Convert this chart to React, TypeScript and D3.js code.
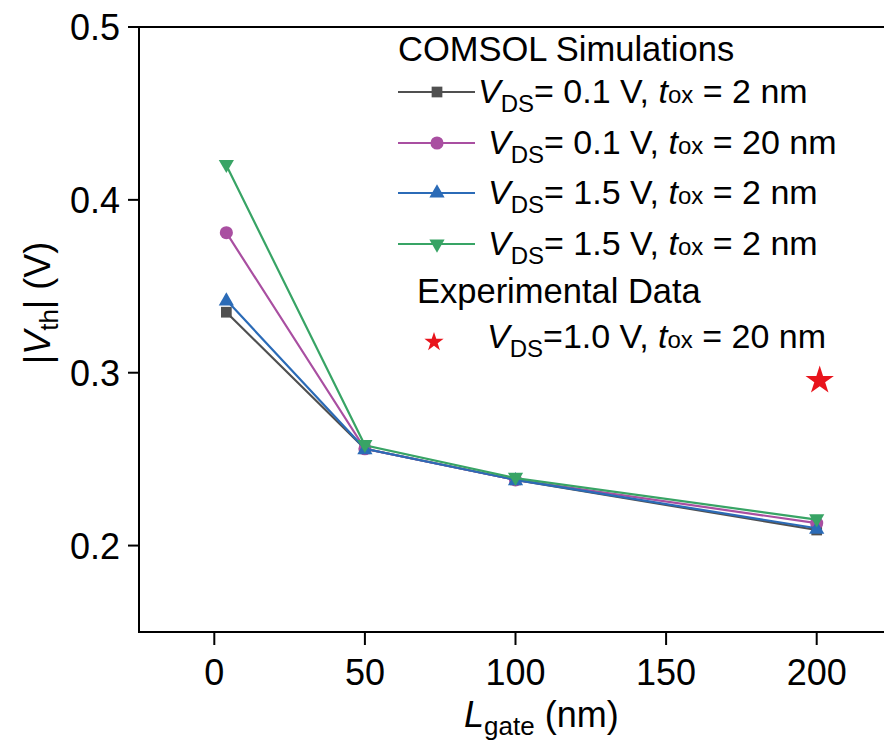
import React from "react";
import * as d3 from "d3";

const lgate = [4, 50, 100, 200];
const vthA = [0.335, 0.256, 0.238, 0.209];
const vthB = [0.381, 0.256, 0.238, 0.213];
const vthC = [0.342, 0.256, 0.238, 0.210];
const vthD = [0.420, 0.258, 0.239, 0.215];
const expX = [201];
const expY = [0.2955];
const xTicks = [0, 50, 100, 150, 200];
const yTicks = [0.2, 0.3, 0.4, 0.5];
const legendVds = ["0.1", "0.1", "1.5", "1.5"];
const legendTox = ["2", "20", "2", "2"];

const W = 884;
const H = 745;
const FONT = "'Liberation Sans', Arial, Helvetica, sans-serif";

const series = [
  { values: vthA, color: "#505050", symbol: d3.symbolSquare, size: 115, rot: 0 },
  { values: vthB, color: "#a94fa1", symbol: d3.symbolCircle, size: 135, rot: 0 },
  { values: vthC, color: "#2b6bb7", symbol: d3.symbolTriangle, size: 100, rot: 0 },
  { values: vthD, color: "#38a465", symbol: d3.symbolTriangle, size: 100, rot: 180 },
];

export default function App() {
  const x = d3.scaleLinear().domain([-25, 225]).range([139, 892]);
  const y = d3.scaleLinear().domain([0.15, 0.5]).range([632, 27]);
  const line = d3
    .line<number>()
    .x((_, i) => x(lgate[i]))
    .y((d) => y(d));

  const legendRowsY = [92, 143, 193, 244];
  const textX = [478, 488, 488, 488];

  return (
    <div style={{ position: "absolute", left: 0, top: 0 }}>
      <svg width={W} height={H} style={{ display: "block", background: "#fff" }} fontFamily={FONT}>
        <rect x={0} y={0} width={W} height={H} fill="#fff" />
        {/* frame */}
        <line x1={139} x2={W} y1={y(0.5)} y2={y(0.5)} stroke="#000" strokeWidth={2} />
        <line x1={139} x2={139} y1={y(0.5)} y2={y(0.15) + 1} stroke="#000" strokeWidth={2} />
        <line x1={138} x2={W} y1={y(0.15)} y2={y(0.15)} stroke="#000" strokeWidth={2} />
        {/* y ticks */}
        {yTicks.map((t) => (
          <g key={"y" + t}>
            <line x1={128} x2={139} y1={y(t)} y2={y(t)} stroke="#000" strokeWidth={2} />
            <text x={120} y={y(t) + 13} textAnchor="end" fontSize={36}>
              {t.toFixed(1)}
            </text>
          </g>
        ))}
        {/* x ticks */}
        {xTicks.map((t) => (
          <g key={"x" + t}>
            <line x1={x(t)} x2={x(t)} y1={632} y2={645} stroke="#000" strokeWidth={2} />
            <text x={x(t)} y={685} textAnchor="middle" fontSize={36}>
              {t}
            </text>
          </g>
        ))}
        {/* axis titles */}
        <text x={464} y={727} fontSize={36}>
          <tspan fontStyle="italic">L</tspan>
          <tspan fontSize={26} dy={8}>gate</tspan>
          <tspan dy={-8}> (nm)</tspan>
        </text>
        <text transform="translate(50,303) rotate(-90)" textAnchor="middle" fontSize={36}>
          <tspan>|</tspan>
          <tspan fontStyle="italic">V</tspan>
          <tspan fontSize={26} dy={8}>th</tspan>
          <tspan dy={-8}>| (V)</tspan>
        </text>
        {/* series */}
        {series.map((s, si) => (
          <g key={"s" + si}>
            <path d={line(s.values) || ""} fill="none" stroke={s.color} strokeWidth={2.2} />
            {s.values.map((v, i) => (
              <path
                key={i}
                d={d3.symbol().type(s.symbol).size(s.size)() || ""}
                transform={`translate(${x(lgate[i])},${y(v) + (s.rot ? -1 : s.symbol === d3.symbolTriangle ? 1 : 0)}) rotate(${s.rot})`}
                fill={s.color}
              />
            ))}
          </g>
        ))}
        {/* experimental star */}
        {expX.map((v, i) => (
          <path
            key={"e" + i}
            d={d3.symbol().type(d3.symbolStar).size(250)() || ""}
            transform={`translate(${x(v)},${y(expY[i])})`}
            fill="#e8141c"
          />
        ))}
        {/* legend */}
        <text x={398} y={61} fontSize={34.5}>COMSOL Simulations</text>
        {series.map((s, i) => (
          <g key={"l" + i}>
            <line x1={398} x2={475} y1={legendRowsY[i]} y2={legendRowsY[i]} stroke={s.color} strokeWidth={2} />
            <path
              d={d3.symbol().type(s.symbol).size(s.size)() || ""}
              transform={`translate(437,${legendRowsY[i]}) rotate(${s.rot})`}
              fill={s.color}
            />
            <text x={textX[i]} y={legendRowsY[i] + 11} fontSize={34}>
              <tspan fontStyle="italic">V</tspan>
              <tspan fontSize={24} dy={9}>DS</tspan>
              <tspan dy={-9}>{`= ${legendVds[i]} V, `}</tspan>
              <tspan fontStyle="italic">t</tspan>
              <tspan fontSize={24}>ox</tspan>
              <tspan>{` = ${legendTox[i]} nm`}</tspan>
            </text>
          </g>
        ))}
        <text x={417} y={303} fontSize={34.5}>Experimental Data</text>
        <path
          d={d3.symbol().type(d3.symbolStar).size(115)() || ""}
          transform="translate(434,342)"
          fill="#e8141c"
        />
        <text x={487} y={348} fontSize={34}>
          <tspan fontStyle="italic">V</tspan>
          <tspan fontSize={24} dy={9}>DS</tspan>
          <tspan dy={-9}>=1.0 V, </tspan>
          <tspan fontStyle="italic">t</tspan>
          <tspan fontSize={24}>ox</tspan>
          <tspan> = 20 nm</tspan>
        </text>
      </svg>
    </div>
  );
}
